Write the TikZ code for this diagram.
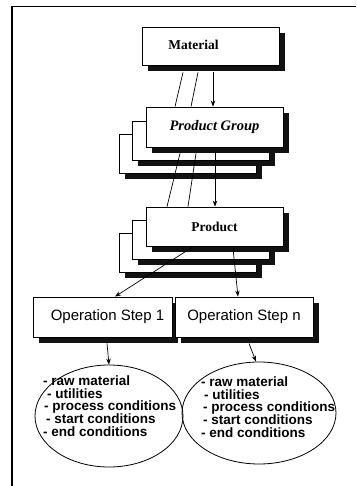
\documentclass[tikz,border=0pt]{standalone}
\usepackage{fontspec}
\setmainfont{Liberation Serif}
\setsansfont{Liberation Sans}
\usetikzlibrary{calc,arrows.meta,shapes.geometric}

\definecolor{shade}{rgb}{0.07,0.07,0.07}

% framed box (centre #3,#4; size #5 x #6) over a solid dark shadow
% offset to the lower right
\newcommand\shadowedbox[7]{%
  \path[fill=shade] ({#3-#5/2+5.5},{#4-#6/2+6}) rectangle ({#3+#5/2+5.5},{#4+#6/2+6});
  \node[box, minimum width=#5pt, minimum height=#6pt, #1] (#2) at (#3,#4) {#7};%
}

\begin{document}
\begin{tikzpicture}[x=1pt,y=-1pt,
  box/.style={draw, line width=0.8pt, fill=white, rectangle, inner sep=0pt},
  serifbold/.style={font=\fontsize{13.5}{15}\selectfont\bfseries},
  serifit/.style={font=\fontsize{14.5}{16}\selectfont\bfseries\itshape},
  opfont/.style={font=\fontsize{15}{17}\selectfont\sffamily},
  cloud/.style={draw, line width=0.8pt, ellipse, inner sep=0pt},
  listtext/.style={font=\fontsize{13.5}{12.6}\selectfont\sffamily\bfseries,
    align=left, inner sep=0pt, anchor=west},
  conn/.style={line width=0.7pt},
  arr/.style={conn, -{Stealth[length=6pt, width=4.5pt]}}
]
\useasboundingbox (0,0) rectangle (356,486);

% page frame (left and top rules)
\draw[line width=1.6pt] (12,486) -- (12,6.5) -- (356,6.5);

% Material
\shadowedbox{}{mat}{210.5}{46}{137}{38}{}
\node[serifbold] (matlabel) at ($(mat.center)+(-17,-1)$) {Material};

% Product Group stack (back to front)
\shadowedbox{}{pg3}{187.5}{153.5}{137}{39}{}
\shadowedbox{}{pg2}{201}{140.5}{137}{39}{}
\shadowedbox{serifit}{pg}{214.5}{127}{137}{40}{Product Group}

% Product stack (back to front)
\shadowedbox{}{pr3}{187.5}{252.5}{137}{39}{}
\shadowedbox{}{pr2}{201}{239.5}{137}{39}{}
\shadowedbox{serifbold}{pr}{214.5}{226.5}{137}{39}{Product}

% Operation steps
\shadowedbox{}{op1}{102.5}{317}{139}{40}{}
\node[opfont] (op1label) at ($(op1.center)+(5,0)$) {Operation Step 1};
\shadowedbox{opfont}{opn}{244}{317}{138}{40}{Operation Step n}

% condition ellipses
\node[cloud, minimum width=148pt, minimum height=102pt] (el1) at (109,416) {};
\node[cloud, minimum width=154pt, minimum height=102pt] (eln) at (259,413) {};

\node[listtext] (l1) at ($(el1.center)+(-66,-10)$) {- raw material\\ \hspace*{4pt}- utilities\\ \hspace*{1pt}- process conditions\\ \hspace*{3pt}- start conditions\\ - end conditions};
\node[listtext] (ln) at ($(eln.center)+(-58,-6)$) {- raw material\\ \hspace*{3pt}- utilities\\ \hspace*{2pt}- process conditions\\ \hspace*{2pt}- start conditions\\ - end conditions};

% Material -> Product Group
\draw[conn] ($(mat.south)+(-27.5,7)$) -- ($(pg.north)+(-39.5,0)$);
\draw[conn] ($(mat.south)+(-12.5,7)$) -- ($(pg.north)+(-23.5,0)$);
\draw[arr]  ($(mat.south)+(2.5,7)$) -- ($(pg.north)+(-1.5,0)$);

% Product Group -> Product
\draw[conn] ($(pg.south)+(-34.5,6)$) -- ($(pr.north)+(-47.5,0)$);
\draw[conn] ($(pg.south)+(-18.5,6)$) -- ($(pr.north)+(-26.5,0)$);
\draw[arr]  ($(pg.south)+(0.5,6)$) -- ($(pr.north)+(0.5,0)$);

% Product -> operation steps
\draw[arr] ($(pr.south)+(-22.5,1)$) -- ($(op1.north)+(12.5,0)$);
\draw[arr] ($(pr.south)+(18.5,2)$) -- ($(opn.north)+(-6,0)$);

% operation steps -> conditions
\draw[arr] ($(op1.south)+(4.5,6)$) -- (el1.north);
\draw[arr] ($(opn.south)+(5,6)$) -- ($(eln.north)+(-3,0)$);
\end{tikzpicture}
\end{document}
